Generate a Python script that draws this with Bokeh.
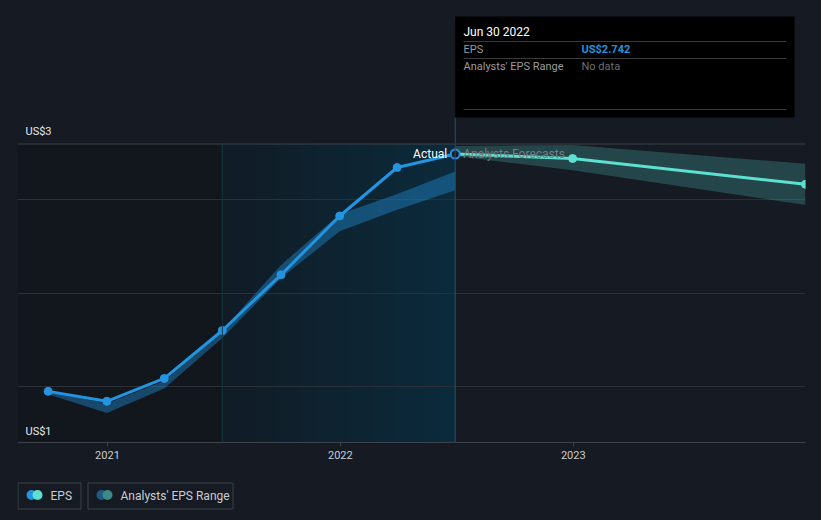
from datetime import datetime
import numpy as np
from bokeh.plotting import figure
from bokeh.layouts import column
from bokeh.models import Range1d, FixedTicker, Span, Label, GlobalInlineStyleSheet
from bokeh.core.properties import value
from bokeh.embed import file_html
from bokeh.resources import INLINE

# ---------------- data ----------------
hist_dates = ["2020-09-30", "2020-12-31", "2021-03-31", "2021-06-30",
              "2021-09-30", "2021-12-31", "2022-03-31", "2022-06-30"]
hist_eps = [1.475, 1.422, 1.544, 1.80, 2.097, 2.411, 2.67, 2.742]
hist_low = [1.46, 1.36, 1.49, 1.76, 2.08, 2.33, 2.445, 2.548]
hist_high = [1.475, 1.41, 1.53, 1.80, 2.15, 2.42, 2.528, 2.649]

fc_dates = ["2022-06-30", "2022-12-31", "2023-12-31"]
fc_eps = [2.742, 2.718, 2.58]
fc_low = [2.73, 2.655, 2.47]
fc_high = [2.785, 2.79, 2.69]

year_ticks = ["2021-01-01", "2022-01-01", "2023-01-01"]
year_labels = ["2021", "2022", "2023"]
y_grid = [1.5, 2.0, 2.5]
y_labels = ["US$3", "US$1"]

past_start = "2021-06-30"
today = "2022-06-30"

tooltip_date = "Jun 30 2022"
tooltip_rows = ["EPS", "Analysts' EPS Range"]
tooltip_vals = ["US$2.742", "No data"]
legend_labels = ["EPS", "Analysts' EPS Range"]

# ---------------- helpers ----------------
def d(s):
    return datetime.strptime(s, "%Y-%m-%d")

def ms(s):
    return (d(s) - datetime(1970, 1, 1)).total_seconds() * 1000.0

BG = "#151a23"
BLUE = "#2394df"
AQUA = "#5ce1d0"
FONT = "Roboto"
W = 821
Y0, Y1 = 1.202, 2.798
xr = Range1d(d("2020-08-13"), d("2023-12-31"))


def base(h, **kw):
    f = figure(width=W, height=h, output_backend="svg", toolbar_location=None,
               min_border_left=17, min_border_right=16, **kw)
    f.background_fill_color = None
    f.border_fill_color = None
    f.outline_line_color = None
    f.min_border_top = 0
    f.min_border_bottom = 0
    return f

# ================= top strip (tooltip) =================
top = base(143, x_range=xr, y_range=Range1d(143, 0), x_axis_type="datetime",
           x_axis_location=None, y_axis_location=None)
top.grid.visible = False
FX = 17  # frame left in page px


def tlab(rx, ry, txt, color, size="11px", style="normal"):
    top.add_layout(Label(x=rx - FX, y=ry, text=txt, text_color=color,
                         text_font=FONT, text_font_size=size, text_font_style=style,
                         x_units="screen", text_baseline="middle"))

top.segment(x0=[d(today)], y0=[117], x1=[d(today)], y1=[143], line_color="#25546b", line_width=1)
top.quad(left=[d(today)], right=[d("2023-12-14")], top=[16], bottom=[117],
         fill_color="#000000", line_color=None)
for ry in (41, 58, 109):
    top.segment(x0=[d("2022-07-13")], y0=[ry], x1=[d("2023-12-01")], y1=[ry],
                line_color="#3a3a3a", line_width=1)
tlab(463, 31, tooltip_date, "#ffffff", "12px")
tlab(463, 49, tooltip_rows[0], "#9b9b9b")
tlab(581, 49, tooltip_vals[0], BLUE, "11px", "bold")
tlab(463, 66, tooltip_rows[1], "#9b9b9b")
tlab(581, 66, tooltip_vals[1], "#6e6e6e")
tlab(25, 131, y_labels[0], "#e8eaed", "11px")

# ================= main plot =================
p = base(329, x_range=xr, y_range=Range1d(Y0, Y1), x_axis_type="datetime")
p.min_border_bottom = 30

bg_q = p.quad(left=[xr.start], right=[d(past_start)], bottom=[Y0], top=[Y1],
              fill_color="#12161d", line_color=None)
bg_q.level = "image"
n = 64
t = np.linspace(0, 1, n)
c0 = np.array([17, 28, 38]); c1 = np.array([11, 43, 60])
img = np.zeros((1, n), dtype=np.uint32)
view = img.view(dtype=np.uint8).reshape((1, n, 4))
for i in range(n):
    view[0, i, 0:3] = (c0 + (c1 - c0) * t[i]).astype(np.uint8)
    view[0, i, 3] = 255
bg_i = p.image_rgba(image=[img], x=ms(past_start), y=Y0, dw=ms(today) - ms(past_start), dh=Y1 - Y0)
bg_i.level = "image"

p.xgrid.visible = False
p.yaxis.visible = False
p.yaxis.ticker = FixedTicker(ticks=y_grid)
p.ygrid.grid_line_color = "#2a2f38"
p.add_layout(Span(location=Y1, dimension="width", line_color="#3d424b", line_width=2))

p.add_layout(Span(location=d(past_start), dimension="height", line_color="#163742", line_width=1))
p.add_layout(Span(location=d(today), dimension="height", line_color="#25546b", line_width=1))

hx = [d(s) for s in hist_dates]
fx = [d(s) for s in fc_dates]
p.varea(x=hx, y1=hist_low, y2=hist_high, fill_color=BLUE, fill_alpha=0.4)
p.varea(x=fx, y1=fc_low, y2=fc_high, fill_color=AQUA, fill_alpha=0.22)

p.line(fx, fc_eps, line_color=AQUA, line_width=3)
p.scatter(fx[1:], fc_eps[1:], size=8, fill_color=AQUA, line_color=AQUA)
p.line(hx, hist_eps, line_color=BLUE, line_width=3)
p.scatter(hx[:-1], hist_eps[:-1], size=8, fill_color=BLUE, line_color=BLUE)
p.scatter([hx[-1]], [hist_eps[-1]], size=9, fill_color=BG, line_color=BLUE, line_width=2)

p.text(x=[hx[-1]], y=[hist_eps[-1]], text=["Actual"], x_offset=-8,
       text_align="right", text_baseline="middle", text_color="#ffffff",
       text_font=value(FONT), text_font_size="12px")
p.text(x=[hx[-1]], y=[hist_eps[-1]], text=["Analysts Forecasts"], x_offset=8,
       text_align="left", text_baseline="middle", text_color="#767c83",
       text_font=value(FONT), text_font_size="12px")

ticks = [ms(s) for s in year_ticks]
p.xaxis.ticker = FixedTicker(ticks=ticks)
p.xaxis.major_label_overrides = {t_: l for t_, l in zip(ticks, year_labels)}
p.xaxis.axis_line_color = "#3d424b"
p.xaxis.major_tick_line_color = "#3d424b"
p.xaxis.major_tick_out = 4
p.xaxis.major_tick_in = 0
p.xaxis.minor_tick_line_color = None
p.xaxis.major_label_text_color = "#c9cdd2"
p.xaxis.major_label_text_font = FONT
p.xaxis.major_label_text_font_size = "11px"
p.xaxis.major_label_standoff = 4

p.add_layout(Label(x=8, y=Y0, y_offset=5, text=y_labels[1], text_color="#e8eaed",
                   text_font=FONT, text_font_size="11px", x_units="screen",
                   text_baseline="bottom"))

# ================= legend strip (data units = page pixels) =================
leg = base(48, x_range=Range1d(17, 805), y_range=Range1d(520, 472),
           x_axis_location=None, y_axis_location=None)
leg.grid.visible = False
leg.quad(left=[17.5, 87.5], right=[80.5, 232.5], top=[482.5, 482.5], bottom=[508.5, 508.5],
         fill_alpha=0, line_color="#3d424b", line_width=1)
leg.scatter([31, 101], [494.5, 494.5], size=10, fill_color=[BLUE, "#1f5a87"], line_color=None)
leg.scatter([37, 107], [494.5, 494.5], size=10, fill_color=[AQUA, "#3b8a83"], line_color=None)
leg.text(x=[50, 120], y=[495, 495], text=legend_labels, text_color="#c9cdd2",
         text_font=value(FONT), text_font_size="12px", text_baseline="middle")

page_css = GlobalInlineStyleSheet(css="html, body { background-color: %s; }" % BG)
layout = column(top, p, leg, spacing=0, stylesheets=[page_css])
open("out.html", "w").write(file_html(layout, INLINE))
